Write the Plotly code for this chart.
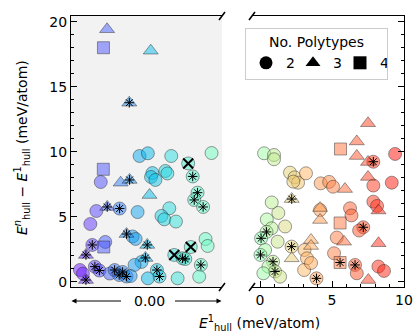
import math
import plotly.graph_objects as go

# ---------------- data ----------------
# left panel: E1_hull = 0, spread horizontally (jitter 0..1)
left_jitter = [0.214, 0.197, 0.329, 0.388, 0.520, 0.454, 0.509, 0.664, 0.776, 0.806,
               0.539, 0.530, 0.559, 0.625, 0.638, 0.931, 0.838, 0.816, 0.875, 0.240,
               0.322, 0.168, 0.128, 0.441, 0.651, 0.599, 0.618, 0.695, 0.368, 0.408,
               0.428, 0.217, 0.227, 0.141, 0.099, 0.505, 0.493, 0.467, 0.421, 0.569,
               0.586, 0.706, 0.509, 0.684, 0.739, 0.757, 0.793, 0.891, 0.905, 0.860,
               0.849, 0.059, 0.079, 0.099, 0.158, 0.188, 0.257, 0.289, 0.319, 0.342,
               0.368, 0.395, 0.239, 0.215, 0.528, 0.386]
left_dE = [8.67, 7.69, 7.64, 7.85, 6.69, 9.69, 9.90, 9.69, 9.12, 8.12,
           8.38, 8.08, 7.85, 8.54, 8.35, 9.92, 6.87, 6.31, 5.77, 5.77,
           5.65, 5.46, 4.46, 5.38, 5.67, 5.08, 4.82, 4.65, 3.69, 3.50,
           3.31, 2.69, 3.08, 2.85, 2.08, 2.85, 1.85, 1.54, 1.31, 0.92,
           0.42, 0.28, 0.28, 2.08, 1.82, 1.77, 2.69, 3.31, 2.77, 1.31,
           0.41, 0.92, 0.65, 0.15, 1.18, 0.88, 0.65, 0.92, 0.54, 0.77,
           0.42, 0.46, 19.44, 18.02, 17.79, 13.79]
left_npoly = [4, 2, 3, 3, 3, 2, 2, 2, 2, 2,
              2, 2, 2, 2, 2, 2, 2, 2, 2, 3,
              2, 2, 2, 2, 2, 2, 2, 2, 3, 2,
              2, 4, 2, 2, 3, 3, 3, 2, 2, 2,
              2, 2, 2, 2, 2, 2, 2, 2, 2, 2,
              2, 2, 2, 3, 2, 2, 2, 2, 2, 2,
              2, 2, 3, 4, 3, 3]
left_flag = ['', '', '', '*', '', '', '', '', 'x', '*',
             '', '', '', '', '', '', '*', '*', '*', '*',
             '*', '', '', '', '', '', '', '', '*', '',
             '', '', '', '*', '*', '*', '*', '', '', '*',
             '*', '', '', 'x', '*', '*', 'x', '', '', '*',
             '', '', '', '*', '*', '*', '', '*', '*', '*',
             '*', '', '', '', '', '*']

# right panel: E1_hull > 0
right_E1 = [0.28, 0.97, 0.97, 2.08, 2.40, 2.64, 2.31, 3.19, 2.20, 4.21,
            4.80, 5.07, 5.90, 5.59, 6.72, 6.72, 7.50, 7.50, 7.50, 7.87,
            9.38, 9.15, 7.87, 7.87, 8.23, 8.13, 4.17, 4.17, 4.17, 6.25,
            6.35, 5.56, 7.17, 6.88, 5.33, 5.83, 8.23, 5.14, 5.56, 6.60,
            6.72, 8.22, 8.61, 7.52, 3.92, 2.19, 3.09, 3.26, 3.06, 3.54,
            3.54, 3.54, 2.20, 0.81, 1.27, 0.47, 1.74, 0.80, 0.45, 0.07,
            1.22, 0.35, 0.03, 0.90, 0.58, 1.04, 1.39, 0.23]
right_dE = [9.90, 9.77, 9.44, 8.41, 8.05, 7.64, 7.72, 8.36, 6.38, 7.59,
            7.70, 7.33, 7.15, 10.23, 10.81, 9.69, 12.21, 9.23, 8.08, 9.25,
            9.85, 7.64, 7.42, 6.18, 5.50, 5.85, 5.69, 5.54, 4.77, 5.67,
            5.12, 4.54, 4.21, 3.96, 3.42, 3.10, 2.98, 2.21, 1.50, 1.31,
            0.67, 1.19, 0.85, 0.15, 0.28, 2.72, 2.46, 1.82, 0.92, 1.46,
            3.23, 2.77, 1.82, 6.12, 5.31, 4.81, 4.27, 4.13, 3.85, 3.36,
            3.10, 2.46, 2.08, 1.56, 1.18, 0.81, 0.41, 0.67]
right_npoly = [2, 2, 2, 2, 2, 2, 2, 2, 3, 2,
               2, 2, 3, 4, 3, 3, 3, 3, 3, 2,
               2, 2, 2, 2, 3, 2, 3, 2, 3, 2,
               2, 4, 2, 2, 2, 3, 3, 2, 4, 2,
               2, 2, 2, 3, 2, 2, 2, 2, 2, 2,
               3, 3, 3, 2, 2, 2, 2, 2, 2, 2,
               2, 2, 2, 2, 2, 2, 2, 2]
right_flag = ['', '', '', '', '', '', '', '', '*', '',
              '', '', '', '', '', '', '', '', '', '*',
              '', '', '', '', '', '', '', '', '', '',
              '', '', '*', '', '', '', '', '', '*', '*',
              '', '', '', '', '*', '*', '', '', '', '',
              '', '', '', '', '', '', '', '', '*', '*',
              '', '', '*', '*', '', '*', '', '']

poly_labels = [2, 3, 4]

# ---------------- style helpers ----------------
SYMBOL = {2: 'circle', 3: 'triangle-up', 4: 'square'}
SIZE = {2: 13, 3: 13, 4: 12}
ALPHA = 0.5


def rainbow(c):
    c = max(0.0, min(1.0, c))
    r = min(1.0, abs(2 * c - 0.5))
    g = math.sin(math.pi * c)
    b = math.cos(math.pi * c / 2)
    return 'rgba(%d,%d,%d,%.2f)' % (round(r * 255), round(g * 255), round(b * 255), ALPHA)


left_c = [rainbow(0.5 * j) for j in left_jitter]
right_c = [rainbow(0.5 + 0.5 * (max(x, 0) / 10.0) ** 0.6) for x in right_E1]

fig = go.Figure()


def add_panel(xs, ys, ns, cols, flags, xa, ya):
    for n in poly_labels:
        idx = [i for i in range(len(xs)) if ns[i] == n]
        if not idx:
            continue
        fig.add_trace(go.Scatter(
            x=[xs[i] for i in idx], y=[ys[i] for i in idx], mode='markers',
            xaxis=xa, yaxis=ya, showlegend=False, hoverinfo='skip',
            marker=dict(symbol=SYMBOL[n], size=SIZE[n], color=[cols[i] for i in idx],
                        line=dict(color='rgba(40,40,40,0.45)', width=1))))
    for flag, sym, sz, w in (('*', 'asterisk-open', 8, 1), ('x', 'x-thin-open', 10, 2)):
        idx = [i for i in range(len(xs)) if flags[i] == flag]
        if not idx:
            continue
        fig.add_trace(go.Scatter(
            x=[xs[i] for i in idx], y=[ys[i] for i in idx], mode='markers',
            xaxis=xa, yaxis=ya, showlegend=False, hoverinfo='skip',
            marker=dict(symbol=sym, size=sz, color='black', line=dict(color='black', width=w))))


add_panel(left_jitter, left_dE, left_npoly, left_c, left_flag, 'x', 'y')
add_panel(right_E1, right_dE, right_npoly, right_c, right_flag, 'x2', 'y2')

# legend entries
for n in poly_labels:
    fig.add_trace(go.Scatter(x=[None], y=[None], mode='markers', name=str(n),
                             xaxis='x2', yaxis='y2',
                             marker=dict(symbol=SYMBOL[n], size=13, color='black')))

# ---------------- layout ----------------
W, H = 413, 335
L, R, T, B = 71, 9, 16, 48
PW, PH = W - L - R, H - T - B


def px(xp):
    return (xp - L) / PW


def py(yp):
    return (H - B - yp) / PH


left_dom = [0, px(222)]
right_dom = [px(252), 1]
font = dict(family='DejaVu Sans', size=14, color='black')

fig.update_layout(
    width=W, height=H, margin=dict(l=L, r=R, t=T, b=B, autoexpand=False),
    paper_bgcolor='white', plot_bgcolor='rgba(0,0,0,0)',
    font=font,
    xaxis=dict(domain=left_dom, range=[0, 1], showline=True, mirror=True, linecolor='black',
               linewidth=1, ticks='', showticklabels=False, showgrid=False, zeroline=False),
    yaxis=dict(domain=[0, 1], range=[-0.385, 20.46], anchor='x', side='left', showline=True,
               linecolor='black', linewidth=1, ticks='inside', ticklen=6, tickwidth=1,
               tickcolor='black', dtick=5, tick0=0, showgrid=False, zeroline=False,
               minor=dict(dtick=1, ticks='inside', ticklen=3, tickcolor='black', showgrid=False),
               tickfont=font),
    xaxis2=dict(domain=right_dom, range=[-0.56, 10.0], anchor='y2', showline=True, mirror=True,
                linecolor='black', linewidth=1, ticks='inside', ticklen=6, tickwidth=1,
                tickcolor='black', dtick=5, tick0=0, showgrid=False, zeroline=False,
                minor=dict(dtick=1, ticks='inside', ticklen=3, tickcolor='black', showgrid=False),
                tickfont=font),
    yaxis2=dict(domain=[0, 1], matches='y', anchor='x2', side='right', showline=True,
                linecolor='black', linewidth=1, ticks='inside', ticklen=6, tickwidth=1,
                tickcolor='black', dtick=5, tick0=0, showticklabels=False, showgrid=False,
                zeroline=False,
                minor=dict(dtick=1, ticks='inside', ticklen=3, tickcolor='black', showgrid=False)),
    legend=dict(x=px(245), y=py(28), xanchor='left', yanchor='top', orientation='h',
                title=dict(text='No. Polytypes', side='top center', font=font),
                font=font, bgcolor='white', bordercolor='#cccccc', borderwidth=1,
                itemwidth=30, tracegroupgap=0, entrywidth=2),
    showlegend=True,
)

shapes = [dict(type='rect', xref='paper', yref='paper', x0=left_dom[0], x1=left_dom[1],
               y0=0, y1=1, fillcolor='#f2f2f2', line=dict(width=0), layer='below')]
for xp in (222, 252):
    for yp in (16, 287):
        shapes.append(dict(type='line', xref='paper', yref='paper',
                           x0=px(xp - 3), y0=py(yp + 4), x1=px(xp + 3), y1=py(yp - 4),
                           line=dict(color='black', width=1.5)))
fig.update_layout(shapes=shapes)

ann = [
    dict(text='0.00', x=px(149), y=py(301), xref='paper', yref='paper', showarrow=False,
         font=font, xanchor='center', yanchor='middle'),
    dict(text='', x=px(71.5), y=py(301), xref='paper', yref='paper', showarrow=True,
         ax=51, ay=0, arrowhead=2, arrowsize=1, arrowwidth=1, arrowcolor='black'),
    dict(text='', x=px(221.5), y=py(301), xref='paper', yref='paper', showarrow=True,
         ax=-48, ay=0, arrowhead=2, arrowsize=1, arrowwidth=1, arrowcolor='black'),
    dict(text='<i>E</i><sup>1</sup><sub>hull</sub> (meV/atom)', x=px(259), y=py(323),
         xref='paper', yref='paper', showarrow=False, font=font,
         xanchor='center', yanchor='middle'),
    dict(text='<i>E</i><sup><i>n</i></sup><sub>hull</sub> \u2212 <i>E</i><sup>1</sup><sub>hull</sub> (meV/atom)',
         x=px(22), y=py(148), xref='paper', yref='paper', showarrow=False, font=font,
         textangle=-90, xanchor='center', yanchor='middle'),
]
fig.update_layout(annotations=ann)

fig.write_html('out.html', config={'displayModeBar': False},
               post_script="document.body.style.margin='0';")
